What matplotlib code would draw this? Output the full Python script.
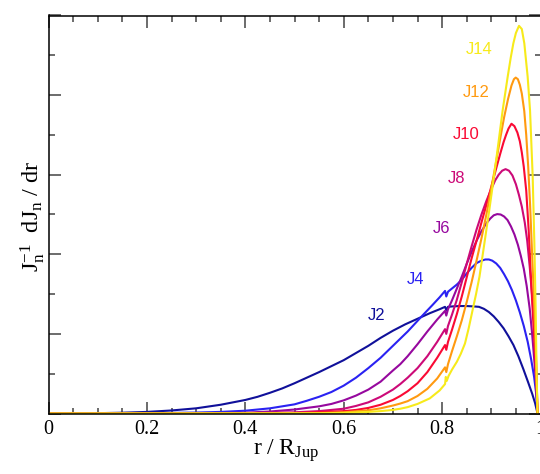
import matplotlib
matplotlib.use("Agg")
import matplotlib.pyplot as plt
from matplotlib.ticker import MultipleLocator

plt.rcParams['mathtext.fontset'] = 'custom'
plt.rcParams['mathtext.rm'] = 'Liberation Serif'
plt.rcParams['mathtext.it'] = 'Liberation Serif:italic'

# values (r / R_Jup, normalised dJn/dr)
r_j2 = [0.0, 0.05, 0.1, 0.15, 0.2, 0.25, 0.3, 0.35, 0.375, 0.4, 0.425, 0.45, 0.475, 0.5, 0.525, 0.55, 0.575,
        0.6, 0.625, 0.65, 0.675, 0.7, 0.725, 0.75, 0.775, 0.795, 0.806, 0.8085, 0.812, 0.82, 0.835, 0.85,
        0.865, 0.875, 0.885, 0.895, 0.905, 0.915, 0.925, 0.935, 0.945, 0.955, 0.965, 0.975, 0.983, 0.989, 0.994]
v_j2 = [0.0, 0.001, 0.004, 0.01, 0.02, 0.038, 0.065, 0.11, 0.14, 0.17, 0.21, 0.26, 0.315, 0.38, 0.45, 0.52, 0.595,
        0.67, 0.76, 0.85, 0.95, 1.04, 1.12, 1.19, 1.26, 1.31, 1.34, 1.30, 1.34, 1.345, 1.35, 1.35,
        1.345, 1.34, 1.315, 1.275, 1.22, 1.15, 1.07, 0.97, 0.86, 0.72, 0.56, 0.39, 0.25, 0.13, 0.0]

r_j4 = [0.0, 0.1, 0.2, 0.3, 0.35, 0.4, 0.45, 0.5, 0.525, 0.55, 0.575, 0.6, 0.625, 0.65, 0.675, 0.7, 0.715, 0.73,
        0.745, 0.76, 0.78, 0.795, 0.806, 0.8085, 0.812, 0.82, 0.83, 0.84, 0.85, 0.86, 0.87, 0.88, 0.888, 0.895,
        0.902, 0.91, 0.918, 0.926, 0.934, 0.942, 0.95, 0.958, 0.966, 0.974, 0.981, 0.987, 0.991, 0.994]
v_j4 = [0.0, 0.001, 0.003, 0.012, 0.02, 0.035, 0.065, 0.115, 0.16, 0.21, 0.27, 0.35, 0.45, 0.57, 0.7, 0.85, 0.94, 1.03,
        1.13, 1.23, 1.36, 1.46, 1.54, 1.47, 1.53, 1.57, 1.62, 1.68, 1.76, 1.83, 1.89, 1.92, 1.935, 1.935,
        1.92, 1.885, 1.83, 1.75, 1.66, 1.55, 1.42, 1.27, 1.1, 0.9, 0.68, 0.46, 0.26, 0.0]

r_j6 = [0.0, 0.2, 0.3, 0.4, 0.45, 0.5, 0.55, 0.575, 0.6, 0.625, 0.65, 0.675, 0.7, 0.715, 0.73, 0.75, 0.77, 0.79,
        0.806, 0.8085, 0.812, 0.82, 0.83, 0.84, 0.85, 0.86, 0.87, 0.88, 0.89, 0.898, 0.905, 0.912, 0.919, 0.926,
        0.933, 0.94, 0.947, 0.954, 0.96, 0.966, 0.972, 0.978, 0.983, 0.988, 0.991, 0.994]
v_j6 = [0.0, 0.0, 0.002, 0.01, 0.025, 0.05, 0.09, 0.12, 0.165, 0.225, 0.3, 0.4, 0.54, 0.62, 0.72, 0.87, 1.03, 1.18,
        1.29, 1.23, 1.31, 1.42, 1.57, 1.72, 1.88, 2.03, 2.17, 2.29, 2.39, 2.45, 2.49, 2.505, 2.5, 2.475,
        2.43, 2.35, 2.25, 2.12, 1.98, 1.82, 1.6, 1.32, 1.0, 0.62, 0.36, 0.0]

r_j8 = [0.0, 0.3, 0.4, 0.5, 0.55, 0.6, 0.625, 0.65, 0.675, 0.7, 0.715, 0.73, 0.75, 0.77, 0.79, 0.806, 0.8085,
        0.812, 0.82, 0.83, 0.84, 0.85, 0.86, 0.87, 0.88, 0.89, 0.9, 0.908, 0.915, 0.922, 0.929, 0.936, 0.943,
        0.95, 0.956, 0.962, 0.968, 0.973, 0.978, 0.982, 0.986, 0.99, 0.994]
v_j8 = [0.0, 0.0, 0.003, 0.015, 0.03, 0.06, 0.095, 0.14, 0.21, 0.3, 0.37, 0.45, 0.57, 0.72, 0.9, 1.06, 1.0,
        1.1, 1.24, 1.43, 1.65, 1.88, 2.1, 2.31, 2.5, 2.67, 2.82, 2.93, 3.0, 3.05, 3.07, 3.05, 2.99,
        2.88, 2.75, 2.6, 2.4, 2.17, 1.85, 1.55, 1.25, 0.85, 0.0]

r_j10 = [0.0, 0.4, 0.5, 0.6, 0.625, 0.65, 0.675, 0.7, 0.715, 0.73, 0.75, 0.77, 0.79, 0.806, 0.8085, 0.812,
         0.82, 0.83, 0.84, 0.85, 0.86, 0.87, 0.88, 0.89, 0.9, 0.91, 0.918, 0.925, 0.93, 0.935, 0.941, 0.947,
         0.953, 0.958, 0.962, 0.966, 0.971, 0.976, 0.98, 0.984, 0.988, 0.991, 0.994]
v_j10 = [0.0, 0.0, 0.005, 0.03, 0.045, 0.07, 0.11, 0.17, 0.22, 0.28, 0.38, 0.52, 0.7, 0.86, 0.8, 0.9,
         1.05, 1.25, 1.47, 1.71, 1.95, 2.17, 2.4, 2.62, 2.85, 3.08, 3.26, 3.41, 3.5, 3.58, 3.64, 3.61,
         3.53, 3.42, 3.28, 3.1, 2.8, 2.3, 1.78, 1.3, 0.85, 0.5, 0.0]

r_j12 = [0.0, 0.5, 0.55, 0.6, 0.65, 0.675, 0.7, 0.715, 0.73, 0.75, 0.77, 0.79, 0.806, 0.8085, 0.812, 0.82,
         0.83, 0.84, 0.85, 0.86, 0.87, 0.88, 0.89, 0.9, 0.91, 0.918, 0.926, 0.934, 0.941, 0.946, 0.9496, 0.954,
         0.958, 0.962, 0.967, 0.971, 0.975, 0.979, 0.983, 0.987, 0.991, 0.994]
v_j12 = [0.0, 0.0, 0.005, 0.015, 0.04, 0.065, 0.1, 0.125, 0.155, 0.22, 0.31, 0.44, 0.58, 0.52, 0.62, 0.78,
         0.97, 1.17, 1.4, 1.65, 1.92, 2.2, 2.5, 2.83, 3.17, 3.45, 3.72, 3.95, 4.12, 4.2, 4.22, 4.2,
         4.13, 4.02, 3.8, 3.5, 3.1, 2.6, 2.0, 1.4, 0.7, 0.0]

r_j14 = [0.0, 0.55, 0.6, 0.65, 0.675, 0.7, 0.715, 0.73, 0.75, 0.775, 0.795, 0.806, 0.8075, 0.8095, 0.813, 0.82,
         0.83, 0.838, 0.8465, 0.854, 0.862, 0.869, 0.876, 0.886, 0.896, 0.9055, 0.9143, 0.9231, 0.9333, 0.9395,
         0.9448, 0.95, 0.9563, 0.962, 0.9671, 0.9739, 0.9787, 0.9841, 0.9875, 0.9902, 0.9922, 0.994]
v_j14 = [0.0, 0.003, 0.008, 0.02, 0.03, 0.045, 0.06, 0.08, 0.12, 0.19, 0.29, 0.37, 0.46, 0.41, 0.47, 0.55,
         0.65, 0.75, 0.88, 1.07, 1.3, 1.5, 1.72, 2.14, 2.56, 2.98, 3.39, 3.81, 4.23, 4.47,
         4.65, 4.78, 4.87, 4.83, 4.65, 4.23, 3.81, 2.98, 2.14, 1.3, 0.46, 0.0]

names = ['J2', 'J4', 'J6', 'J8', 'J10', 'J12', 'J14']
radii = [r_j2, r_j4, r_j6, r_j8, r_j10, r_j12, r_j14]
values = [v_j2, v_j4, v_j6, v_j8, v_j10, v_j12, v_j14]
colors = ['#10109a', '#2a22f2', '#96089e', '#cc0a78', '#fa0a34', '#ff9a10', '#f7ea1a']
label_x = [0.666, 0.747, 0.798, 0.829, 0.849, 0.869, 0.876]
label_y = [1.23, 1.68, 2.32, 2.95, 3.50, 4.03, 4.57]

xtick_pos = [0, 0.2, 0.4, 0.6, 0.8, 1.0]
xtick_labels = ['0', '0.2', '0.4', '0.6', '0.8', '1']

fig = plt.figure(figsize=(5.4, 4.74), dpi=100)
ax = fig.add_axes([48.5 / 540, 1 - 413.5 / 474, (540.5 - 48.5) / 540, (413.5 - 15.5) / 474])

for name, r, v, c, lx, ly in zip(names, radii, values, colors, label_x, label_y):
    ax.plot(r, v, color=c, lw=1.5, solid_joinstyle='round')
    ax.text(lx, ly, name, color=c, fontsize=12, family='Liberation Sans', ha='center', va='center')

ax.set_xlim(0, 1)
ax.set_ylim(0, 5)
ax.set_xticks(xtick_pos)
ax.set_xticklabels(xtick_labels, family='Liberation Serif', fontsize=14.5)
ax.xaxis.set_minor_locator(MultipleLocator(0.05))
ax.yaxis.set_major_locator(MultipleLocator(1))
ax.yaxis.set_minor_locator(MultipleLocator(0.5))
ax.tick_params(which='both', direction='in', top=True, right=True, color='#444444', width=1.1)
ax.tick_params(which='major', length=8.5, pad=5)
ax.tick_params(which='minor', length=4.5)
ax.tick_params(axis='y', which='both', labelleft=False)
for s in ax.spines.values():
    s.set_linewidth(1.1)

fig.text(286 / 540, 1 - 451 / 474, r'$\mathrm{r\ /\ R_{Jup}}$', fontsize=17, ha='center', va='center')
fig.text(33 / 540, 1 - 217 / 474, r'$\mathrm{J_n^{-1}\ \ dJ_n\ /\ dr}$', fontsize=17.5,
         rotation=90, ha='center', va='center')

fig.savefig('out.png', dpi=100)
